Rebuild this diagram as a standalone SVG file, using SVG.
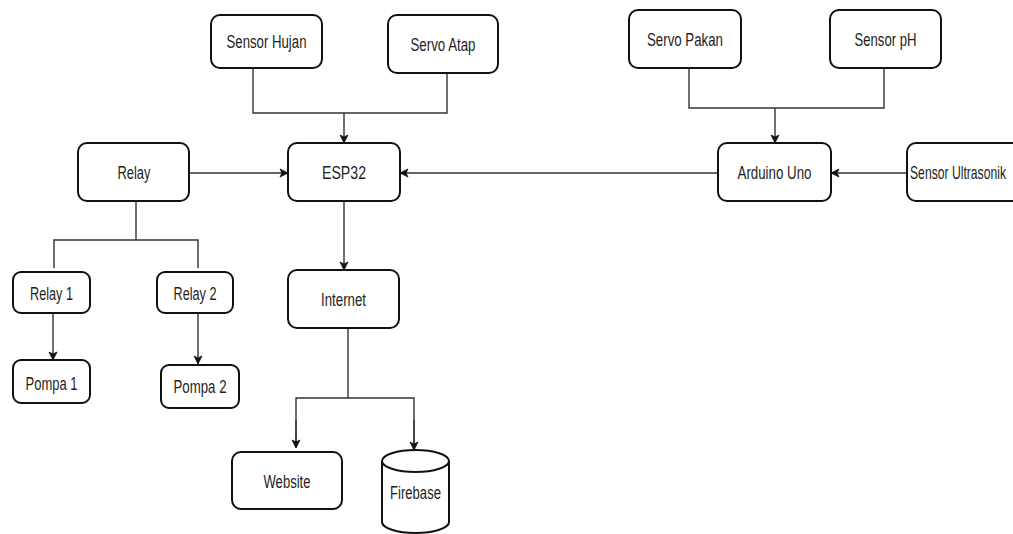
<svg xmlns="http://www.w3.org/2000/svg" width="1013" height="534" viewBox="0 0 1013 534">
<style>
.box{fill:#fff;stroke:#111;stroke-width:2}
.t{font-family:"Liberation Sans",Arial,sans-serif;font-size:17.5px;fill:#1e1e1e;text-anchor:middle}
.c{fill:none;stroke:#333;stroke-width:1.4}
</style>
<defs>
<marker id="ah" markerWidth="10" markerHeight="10" refX="9" refY="5" orient="auto" markerUnits="userSpaceOnUse">
<path d="M1,1 L9,5 L1,9 L3,5 Z" fill="#111" stroke="#111" stroke-width="0.8"/>
</marker>
</defs>
<rect width="1013" height="534" fill="#fff"/>
<g id="connectors">
<path class="c" d="M253,68 V113 H447 V73"/>
<path class="c" d="M344,113 V143" marker-end="url(#ah)"/>
<path class="c" d="M689,68 V108 H884 V68"/>
<path class="c" d="M775,108 V143" marker-end="url(#ah)"/>
<path class="c" d="M189,173 H288" marker-end="url(#ah)"/>
<path class="c" d="M718,173 H400" marker-end="url(#ah)"/>
<path class="c" d="M907,173 H831" marker-end="url(#ah)"/>
<path class="c" d="M344,201 V270" marker-end="url(#ah)"/>
<path class="c" d="M136,201 V240 M54,268 V240 H198 V268"/>
<path class="c" d="M53,313 V360" marker-end="url(#ah)"/>
<path class="c" d="M198,313 V364" marker-end="url(#ah)"/>
<path class="c" d="M348,328 V398 M296,447 V398 H414 V450"/>
<path class="c" d="M296,420 V448" marker-end="url(#ah)"/>
<path class="c" d="M414,420 V450" marker-end="url(#ah)"/>
</g>
<g id="sensor-hujan"><rect class="box" x="211" y="15" width="111" height="53" rx="9"/><text class="t" x="266.5" y="48" textLength="80" lengthAdjust="spacingAndGlyphs">Sensor Hujan</text></g>
<g id="servo-atap"><rect class="box" x="388" y="15" width="110" height="58" rx="9"/><text class="t" x="443" y="51" textLength="65" lengthAdjust="spacingAndGlyphs">Servo Atap</text></g>
<g id="servo-pakan"><rect class="box" x="629" y="10" width="112" height="58" rx="9"/><text class="t" x="685" y="46" textLength="76" lengthAdjust="spacingAndGlyphs">Servo Pakan</text></g>
<g id="sensor-ph"><rect class="box" x="830" y="10" width="111" height="58" rx="9"/><text class="t" x="885.5" y="46" textLength="62" lengthAdjust="spacingAndGlyphs">Sensor pH</text></g>
<g id="relay"><rect class="box" x="78" y="143" width="111" height="58" rx="9"/><text class="t" x="134" y="179" textLength="33" lengthAdjust="spacingAndGlyphs">Relay</text></g>
<g id="esp32"><rect class="box" x="288" y="143" width="112" height="58" rx="9"/><text class="t" x="344" y="179" textLength="44" lengthAdjust="spacingAndGlyphs">ESP32</text></g>
<g id="arduino-uno"><rect class="box" x="718" y="143" width="113" height="58" rx="9"/><text class="t" x="774.5" y="179" textLength="74" lengthAdjust="spacingAndGlyphs">Arduino Uno</text></g>
<g id="sensor-ultrasonik"><rect class="box" x="907" y="143" width="116" height="58" rx="9"/><text class="t" x="958" y="179" textLength="96" lengthAdjust="spacingAndGlyphs">Sensor Ultrasonik</text></g>
<g id="relay-1"><rect class="box" x="13" y="272" width="77" height="41" rx="8"/><text class="t" x="51.5" y="299.5" textLength="43" lengthAdjust="spacingAndGlyphs">Relay 1</text></g>
<g id="relay-2"><rect class="box" x="157" y="272" width="76" height="41" rx="8"/><text class="t" x="195" y="299.5" textLength="43" lengthAdjust="spacingAndGlyphs">Relay 2</text></g>
<g id="pompa-1"><rect class="box" x="13" y="360" width="77" height="43" rx="8"/><text class="t" x="51.5" y="390" textLength="52" lengthAdjust="spacingAndGlyphs">Pompa 1</text></g>
<g id="pompa-2"><rect class="box" x="161" y="365" width="78" height="43" rx="8"/><text class="t" x="200" y="393" textLength="53" lengthAdjust="spacingAndGlyphs">Pompa 2</text></g>
<g id="internet"><rect class="box" x="288" y="270" width="111" height="58" rx="9"/><text class="t" x="343.5" y="306" textLength="45" lengthAdjust="spacingAndGlyphs">Internet</text></g>
<g id="website"><rect class="box" x="232" y="452" width="110" height="57" rx="9"/><text class="t" x="287" y="488" textLength="47" lengthAdjust="spacingAndGlyphs">Website</text></g>
<g id="firebase">
<path class="box" d="M382,461 A33.5,11 0 0 1 449,461 V522 A33.5,11 0 0 1 382,522 Z"/>
<path fill="none" stroke="#111" stroke-width="2" d="M382,461 A33.5,11 0 0 0 449,461"/>
<text class="t" x="415.5" y="498.5" textLength="51" lengthAdjust="spacingAndGlyphs">Firebase</text>
</g>
</svg>
